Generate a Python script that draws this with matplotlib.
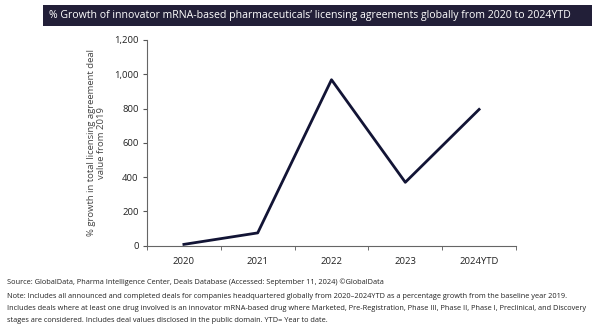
import matplotlib.pyplot as plt
from matplotlib.patches import Rectangle

# growth in licensing deal value vs 2019 baseline
years = ["2020", "2021", "2022", "2023", "2024YTD"]
growth = [8, 75, 968, 370, 795]
yticks = [0, 200, 400, 600, 800, 1000, 1200]

source = "Source: GlobalData, Pharma Intelligence Center, Deals Database (Accessed: September 11, 2024) \u00a9GlobalData"
note_lines = [
    "Note: Includes all announced and completed deals for companies headquartered globally from 2020\u20132024YTD as a percentage growth from the baseline year 2019.",
    "Includes deals where at least one drug involved is an innovator mRNA-based drug where Marketed, Pre-Registration, Phase III, Phase II, Phase I, Preclinical, and Discovery",
    "stages are considered. Includes deal values disclosed in the public domain. YTD= Year to date.",
]

plt.rcParams['font.family'] = ['Open Sans', 'DejaVu Sans']

fig = plt.figure(figsize=(6, 3.33), dpi=100)
fig.patch.set_facecolor("white")

# title banner
fig.patches.append(Rectangle((0.072, 0.922), 0.915, 0.064, transform=fig.transFigure,
                             facecolor="#221f38", edgecolor="none"))
fig.text(0.082, 0.954, "% Growth of innovator mRNA-based pharmaceuticals\u2019 licensing agreements globally from 2020 to 2024YTD",
         color="white", fontsize=7.6, va="center", ha="left")

ax = fig.add_axes([0.245, 0.262, 0.615, 0.618])
x = range(len(years))
ax.plot(x, growth, color="#121435", lw=2)

ax.set_xlim(-0.5, len(years) - 0.5)
ax.set_ylim(0, 1200)
ax.set_yticks(yticks)
ax.set_yticklabels([f"{v:,}" for v in yticks], fontsize=6.8, color="#222222")
ax.set_xticks(list(x))
ax.set_xticklabels(years, fontsize=6.8, color="#222222")
ax.set_xticks([i - 0.5 for i in range(len(years) + 1)], minor=True)
ax.tick_params(axis="x", which="major", length=0, pad=8)
ax.tick_params(axis="x", which="minor", length=3, direction="out", color="#555555")
ax.tick_params(axis="y", length=3, direction="out", color="#555555", pad=3)

for s in ["top", "right"]:
    ax.spines[s].set_visible(False)
for s in ["left", "bottom"]:
    ax.spines[s].set_color("#666666")
    ax.spines[s].set_linewidth(0.8)

ax.set_ylabel("% growth in total licensing agreement deal\nvalue from 2019", fontsize=6.8,
              color="#444444", labelpad=6, linespacing=1.1)

# footer
fig.text(0.012, 1 - 282 / 333, source, fontsize=5.3, color="#222222", va="center")
for i, line in enumerate(note_lines):
    fig.text(0.012, 1 - (296 + 12.5 * i) / 333, line, fontsize=5.3, color="#222222", va="center")

fig.savefig("out.png", dpi=100)
